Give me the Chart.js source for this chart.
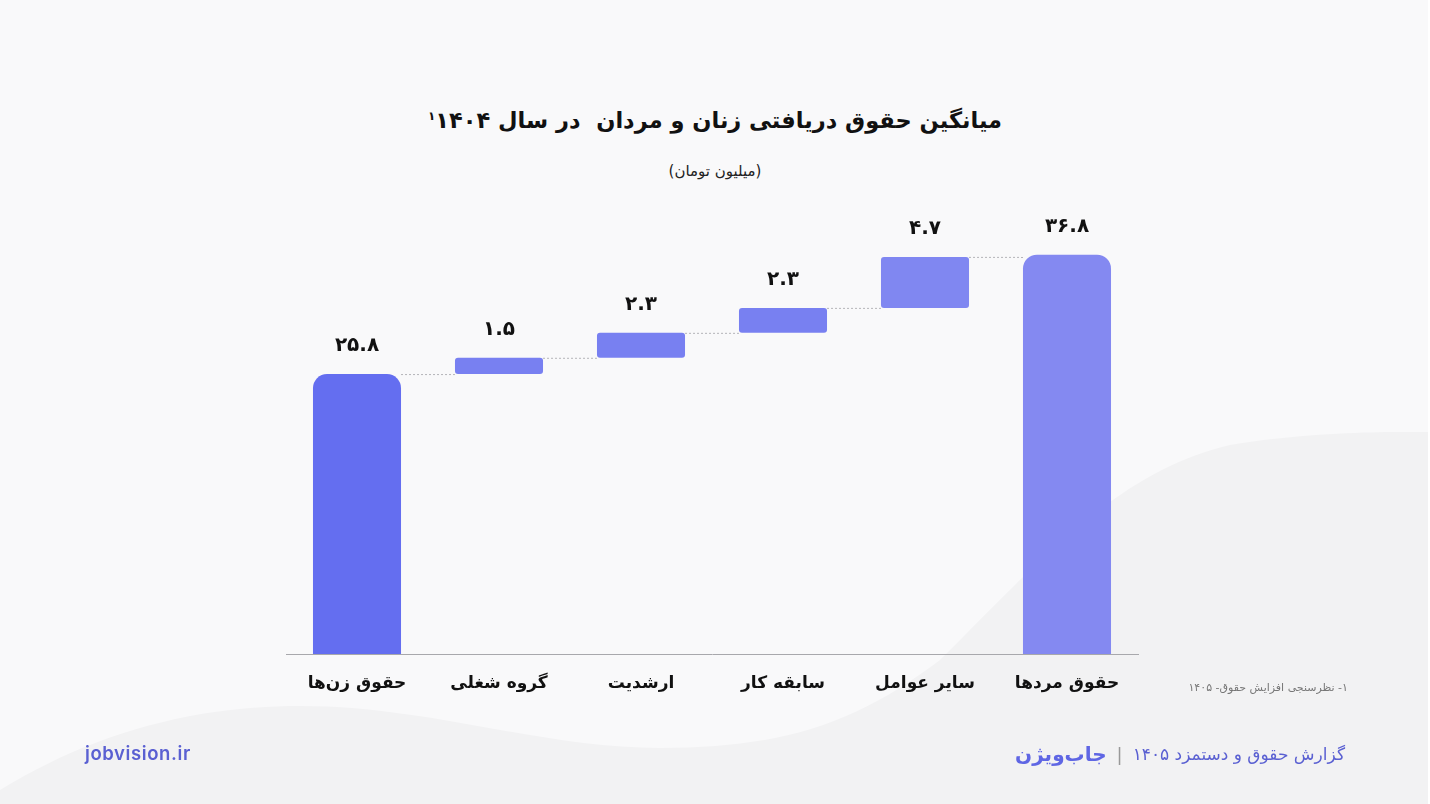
<!DOCTYPE html>
<html lang="fa">
<head>
    <meta charset="UTF-8">
    <title>میانگین حقوق دریافتی زنان و مردان</title>
    <script src="https://cdn.jsdelivr.net/npm/chart.js"></script>
    <style>
        html, body {
            margin: 0;
            padding: 0;
            width: 1430px;
            height: 804px;
            overflow: hidden;
            background: #f9f9fa;
            font-family: 'DejaVu Sans', sans-serif;
        }
        #bg {
            position: absolute;
            left: 0;
            top: 0;
        }
        #wrap {
            position: absolute;
            left: 0;
            top: 0;
            width: 1430px;
            height: 804px;
        }
        .title {
            position: absolute;
            top: 107px;
            left: 0;
            width: 1430px;
            text-align: center;
            font-size: 22.5px;
            font-weight: bold;
            color: #111;
            white-space: pre;
        }
        .title sup {
            font-size: 12px;
        }
        .subtitle {
            position: absolute;
            top: 162px;
            left: 0;
            width: 1430px;
            text-align: center;
            font-size: 15px;
            color: #222;
        }
        .note {
            position: absolute;
            top: 681px;
            right: 82px;
            font-size: 11px;
            color: #777;
        }
        .brand {
            position: absolute;
            top: 742px;
            right: 85px;
            font-size: 17px;
            color: #5a60d2;
            display: flex;
            align-items: center;
            gap: 10px;
        }
        .brand .sep {
            color: #999;
            font-size: 18px;
        }
        .brand .logo {
            font-weight: bold;
            color: #5f66e4;
            font-size: 20px;
        }
        .site {
            position: absolute;
            top: 742px;
            left: 85px;
            font-size: 18.5px;
            font-weight: 600;
            letter-spacing: 0.6px;
            color: #5a60d2;
            font-family: 'Inter', sans-serif;
        }
    </style>
</head>
<body>
    <svg id="bg" width="1430" height="804">
        <path d="M0,804 L0,790 C90,735 190,706 300,706 C430,706 540,748 660,748 C790,748 860,720 940,660 C1040,560 1120,470 1230,445 C1320,430 1400,432 1430,432 L1430,804 Z" fill="#f2f2f3"/>
        <rect x="1428" y="0" width="2" height="804" fill="#ffffff"/>
    </svg>
    <div class="title" dir="rtl">میانگین حقوق دریافتی زنان و مردان  در سال ۱۴۰۴&#x200F;<sup>۱</sup></div>
    <div class="subtitle" dir="rtl">(میلیون تومان)</div>
    <div id="wrap"><canvas id="chart"></canvas></div>
    <div class="note" dir="rtl">۱- نظرسنجی افزایش حقوق- ۱۴۰۵</div>
    <div class="brand" dir="rtl">
        <span>گزارش حقوق و دستمزد ۱۴۰۵</span>
        <span class="sep">|</span>
        <span class="logo">جاب‌ویژن</span>
    </div>
    <div class="site">jobvision.ir</div>

    <script>
        const categories = ["حقوق زن‌ها", "گروه شغلی", "ارشدیت", "سابقه کار", "سایر عوامل", "حقوق مردها"];
        const values = [25.8, 1.5, 2.3, 2.3, 4.7, 36.8];
        const kinds = ["total", "step", "step", "step", "step", "total"];
        const barColors = ["#646ef0", "#7880f1", "#7880f1", "#7880f1", "#8087f1", "#8489f1"];

        // turn 25.8 into ۲۵.۸
        function faDigits(v) {
            return String(v).replace(/[0-9]/g, d => "۰۱۲۳۴۵۶۷۸۹"[d]);
        }

        // floating bars for the waterfall
        let running = 0;
        const floating = values.map((v, i) => {
            if (kinds[i] === "total") {
                running = v;
                return [0, v];
            }
            const seg = [running, running + v];
            running += v;
            return seg;
        });

        const waterfallExtras = {
            id: "waterfallExtras",
            afterDatasetsDraw(chart) {
                const ctx = chart.ctx;
                const meta = chart.getDatasetMeta(0);
                const y = chart.scales.y;

                // dashed connectors between bars
                ctx.save();
                ctx.strokeStyle = "#b4b4b8";
                ctx.lineWidth = 1;
                ctx.setLineDash([2, 2]);
                for (let i = 0; i < meta.data.length - 1; i++) {
                    const a = meta.data[i], b = meta.data[i + 1];
                    const level = y.getPixelForValue(floating[i][1]) + 0.5;
                    ctx.beginPath();
                    ctx.moveTo(a.x + a.width / 2, level);
                    ctx.lineTo(b.x - b.width / 2, level);
                    ctx.stroke();
                }
                ctx.restore();

                // value labels
                ctx.save();
                ctx.font = "bold 20px 'DejaVu Sans'";
                ctx.fillStyle = "#111";
                ctx.textAlign = "center";
                ctx.textBaseline = "middle";
                meta.data.forEach((bar, i) => {
                    const top = y.getPixelForValue(floating[i][1]);
                    ctx.fillText(faDigits(values[i]), bar.x, top - 28);
                });
                ctx.restore();
            }
        };

        new Chart(document.getElementById("chart"), {
            type: "bar",
            data: {
                labels: categories,
                datasets: [{
                    data: floating,
                    backgroundColor: barColors,
                    borderSkipped: false,
                    borderRadius: c => kinds[c.dataIndex] === "total"
                        ? { topLeft: 14, topRight: 14, bottomLeft: 0, bottomRight: 0 }
                        : 3,
                    barPercentage: 0.62,
                    categoryPercentage: 1
                }]
            },
            options: {
                responsive: true,
                maintainAspectRatio: false,
                animation: false,
                layout: { padding: { left: 286, right: 292, top: 220, bottom: 100 } },
                plugins: {
                    legend: { display: false },
                    tooltip: { enabled: false }
                },
                scales: {
                    x: {
                        grid: { display: false },
                        border: { color: "#a8a8ac", width: 1 },
                        ticks: {
                            color: "#111",
                            padding: 11,
                            font: { family: "DejaVu Sans", size: 17, weight: "bold" }
                        },
                        afterFit: s => { s.height = 50; }
                    },
                    y: {
                        display: false,
                        min: 0,
                        max: 40
                    }
                }
            },
            plugins: [waterfallExtras]
        });
    </script>
</body>
</html>
